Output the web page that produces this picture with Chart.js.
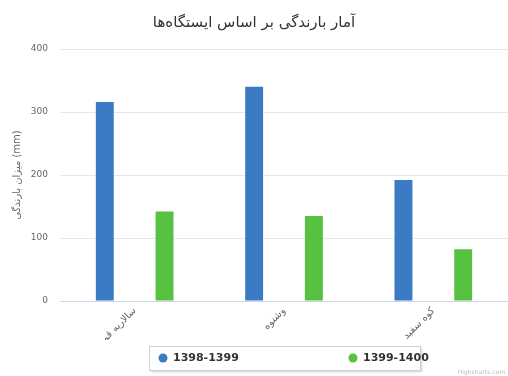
<!DOCTYPE html>
<html>
<head>
<meta charset="utf-8">
<script src="https://cdn.jsdelivr.net/npm/chart.js@4/dist/chart.umd.min.js"></script>
<style>
    html, body { margin: 0; padding: 0; background: #fff; }
    #wrap { width: 508px; height: 376px; position: relative; }
</style>
</head>
<body>
<div id="wrap"><canvas id="rain-chart"></canvas></div>
<script>
var stations = ['سالاریه قم', 'وشنوه', 'کوه سفید'];
var seriesNames = ['1398-1399', '1399-1400'];
var rain9899 = [316, 340, 192];
var rain9900 = [142, 135, 82];
var seriesColors = ['#3b7bc4', '#57c241'];
var yTicks = [0, 100, 200, 300, 400];

// legend drawn like the original: one framed row under the chart
var boxLegend = {
    id: 'boxLegend',
    afterDraw: function (chart) {
        var ctx = chart.ctx;
        ctx.save();
        ctx.shadowColor = 'rgba(0,0,0,0.18)';
        ctx.shadowOffsetX = 1;
        ctx.shadowOffsetY = 1;
        ctx.shadowBlur = 2;
        ctx.fillStyle = '#fff';
        ctx.fillRect(149.5, 346.5, 271, 24);
        ctx.shadowColor = 'transparent';
        ctx.strokeStyle = '#cfcfcf';
        ctx.lineWidth = 1;
        ctx.strokeRect(149.5, 346.5, 271, 24);
        var xs = [163, 353];
        ctx.font = 'bold 11px "DejaVu Sans"';
        ctx.textBaseline = 'middle';
        chart.data.datasets.forEach(function (ds, i) {
            ctx.fillStyle = ds.backgroundColor;
            ctx.beginPath();
            ctx.arc(xs[i], 358, 4.5, 0, Math.PI * 2);
            ctx.fill();
            ctx.fillStyle = '#333';
            ctx.fillText(ds.label, xs[i] + 10, 358.5);
        });
        ctx.font = '6px "DejaVu Sans"';
        ctx.fillStyle = '#bbb';
        ctx.textAlign = 'right';
        ctx.fillText('Highcharts.com', 505, 372);
        ctx.restore();
    }
};

const chart = document.getElementById('rain-chart');

new Chart(chart, {
    type: 'bar',
    data: {
        labels: stations,
        datasets: [{
            label: seriesNames[0],
            data: rain9899,
            backgroundColor: seriesColors[0],
            categoryPercentage: 0.8,
            barPercentage: 0.3
        }, {
            label: seriesNames[1],
            data: rain9900,
            backgroundColor: seriesColors[1],
            categoryPercentage: 0.8,
            barPercentage: 0.3
        }]
    },
    options: {
        responsive: true,
        maintainAspectRatio: false,
        animation: false,
        layout: { padding: { left: 0, right: 0, top: 4, bottom: 36 } },
        plugins: {
            legend: { display: false },
            tooltip: { enabled: false },
            title: {
                display: true,
                text: 'آمار بارندگی بر اساس ایستگاه‌ها',
                color: '#333',
                font: { family: '"DejaVu Sans"', size: 15, weight: 'normal' },
                padding: { top: 10, bottom: 17 }
            }
        },
        scales: {
            x: {
                grid: { display: false, drawTicks: false },
                border: { color: '#ccd6eb' },
                ticks: {
                    color: '#666',
                    font: { family: '"DejaVu Sans"', size: 10 },
                    minRotation: 45,
                    maxRotation: 45,
                    padding: 4
                },
                afterFit: function (scale) { scale.height = 39; }
            },
            y: {
                min: 0,
                max: 400,
                afterBuildTicks: function (scale) {
                    scale.ticks = yTicks.map(function (v) { return { value: v }; });
                },
                grid: { color: '#e6e6e6', drawTicks: false },
                border: { display: false },
                ticks: {
                    color: '#666',
                    font: { family: '"DejaVu Sans"', size: 9 },
                    padding: 12
                },
                title: {
                    display: true,
                    text: 'میزان بارندگی (mm)',
                    color: '#666',
                    font: { family: '"DejaVu Sans"', size: 10 },
                    padding: { top: 11, bottom: 4 }
                },
                afterFit: function (scale) { scale.width = 60; }
            }
        }
    },
    plugins: [boxLegend]
});
</script>
</body>
</html>
